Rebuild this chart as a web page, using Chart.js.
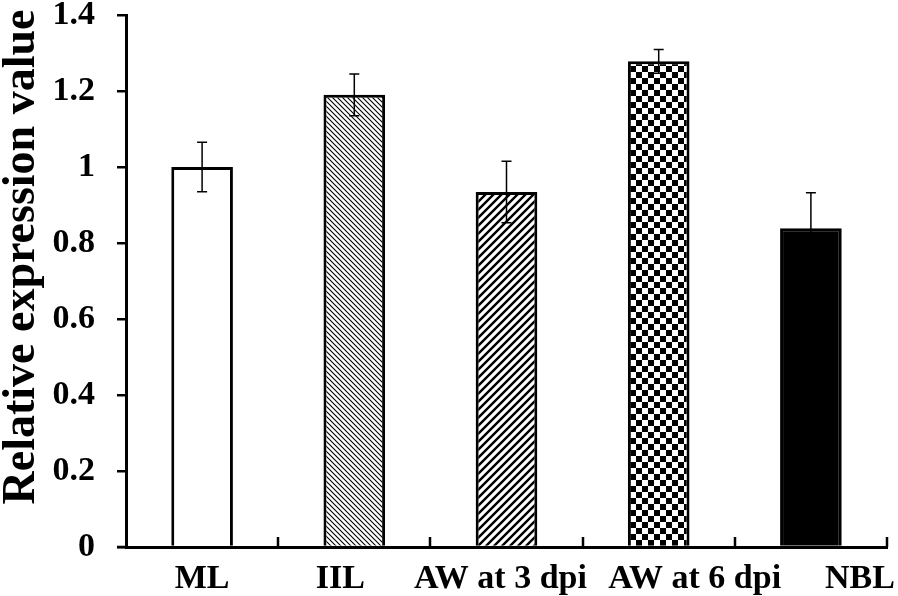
<!DOCTYPE html>
<html>
<head>
<meta charset="utf-8">
<script src="https://cdn.jsdelivr.net/npm/chart.js@4.4.1/dist/chart.umd.min.js"></script>
<style>
  html, body { margin: 0; padding: 0; background: #fff; }
  #wrap { width: 898px; height: 596px; position: relative; }
</style>
</head>
<body>
<div id="wrap"><canvas id="chart"></canvas></div>
<script>
// ── Data ────────────────────────────────────────────────────────────────
const categories = ["ML", "IIL", "AW at 3 dpi", "AW at 6 dpi", "NBL"];
const values     = [1.0, 1.19, 0.934, 1.278, 0.839];
const errors     = [0.065, 0.055, 0.081, 0.031, 0.093];
const yTicks     = [0, 0.2, 0.4, 0.6, 0.8, 1, 1.2, 1.4];
const yTitle     = "Relative expression value";

// ── Style ───────────────────────────────────────────────────────────────
const INK  = "#000000";
const FONT = "'Liberation Serif', 'Times New Roman', serif";
// the x labels in the original sit a little off their category centres
const labelShift = [0, -14, -6, 36, 49];

// ── Fill patterns ───────────────────────────────────────────────────────
function tile(size, draw) {
  const c = document.createElement("canvas");
  c.width = size; c.height = size;
  const g = c.getContext("2d");
  g.fillStyle = "#fff";
  g.fillRect(0, 0, size, size);
  draw(g, size);
  return g.createPattern(c, "repeat");
}

// fine "\\\" hatch
const fineHatch = tile(5, (g, n) => {
  g.strokeStyle = INK; g.lineWidth = 1.1;
  g.beginPath();
  g.moveTo(-1, -1); g.lineTo(n + 1, n + 1);
  g.moveTo(-1, n - 1); g.lineTo(1, n + 1);
  g.moveTo(n - 1, -1); g.lineTo(n + 1, 1);
  g.stroke();
});

// wide "///" hatch
const wideHatch = tile(8, (g, n) => {
  g.strokeStyle = INK; g.lineWidth = 2.4;
  g.beginPath();
  g.moveTo(-1, n + 1); g.lineTo(n + 1, -1);
  g.moveTo(-1, 1); g.lineTo(1, -1);
  g.moveTo(n - 1, n + 1); g.lineTo(n + 1, n - 1);
  g.stroke();
});

// checkerboard
const checker = tile(12, (g, n) => {
  g.fillStyle = INK;
  g.fillRect(0, 0, n / 2, n / 2);
  g.fillRect(n / 2, n / 2, n / 2, n / 2);
});

const fills = ["#ffffff", fineHatch, wideHatch, checker, INK];

// ── Error bars, inward x ticks, category labels, y title ────────────────
const overlay = {
  id: "overlay",
  afterDatasetsDraw(chart) {
    const { ctx, scales: { x, y } } = chart;
    ctx.save();

    ctx.strokeStyle = INK;
    ctx.lineWidth = 1.5;
    values.forEach((v, i) => {
      const cx  = x.getPixelForValue(i);
      const top = y.getPixelForValue(v + errors[i]);
      const bot = y.getPixelForValue(v - errors[i]);
      ctx.beginPath();
      ctx.moveTo(cx, top);     ctx.lineTo(cx, bot);
      ctx.moveTo(cx - 5, top); ctx.lineTo(cx + 5, top);
      ctx.moveTo(cx - 5, bot); ctx.lineTo(cx + 5, bot);
      ctx.stroke();
    });

    // tick marks between categories, pointing up
    const base = y.getPixelForValue(0);
    ctx.lineWidth = 2.5;
    ctx.beginPath();
    categories.forEach((_, i) => {
      const bx = Math.round(x.getPixelForValue(i + 0.5));
      ctx.moveTo(bx, base); ctx.lineTo(bx, base - 10);
    });
    // axis line runs a little past the y axis
    ctx.moveTo(x.left - 9, base); ctx.lineTo(x.left, base);
    ctx.stroke();

    ctx.fillStyle = INK;
    ctx.font = "bold 34px " + FONT;
    ctx.textAlign = "center";
    ctx.textBaseline = "middle";
    categories.forEach((c, i) => {
      ctx.fillText(c, x.getPixelForValue(i) + labelShift[i], base + 32);
    });

    // y-axis title, sitting a bit above the plot's middle as in the original
    ctx.font = "bold 46px " + FONT;
    ctx.textBaseline = "alphabetic";
    ctx.translate(34, (chart.chartArea.top + chart.chartArea.bottom) / 2 - 24);
    ctx.rotate(-Math.PI / 2);
    ctx.fillText(yTitle, 0, 0);

    ctx.restore();
  },
};

new Chart(document.getElementById("chart"), {
  type: "bar",
  data: {
    labels: categories,
    datasets: [{
      data: values,
      backgroundColor: fills,
      borderColor: INK,
      borderWidth: 3,
      borderSkipped: "bottom",
      barPercentage: 0.405,
      categoryPercentage: 1,
    }],
  },
  options: {
    responsive: true,
    maintainAspectRatio: false,
    animation: false,
    layout: { padding: { top: 15, right: 11, left: 0, bottom: 0 } },
    plugins: {
      legend: { display: false },
      tooltip: { enabled: false },
    },
    scales: {
      x: {
        grid: { display: false },
        border: { display: true, color: INK, width: 3 },
        ticks: { display: false },
        afterFit: (s) => { s.height = 49; s.paddingLeft = 0; s.paddingRight = 0; },
      },
      y: {
        min: 0,
        max: 1.4,
        afterBuildTicks: (s) => { s.ticks = yTicks.map(v => ({ value: v })); },
        grid: {
          drawOnChartArea: false,
          color: INK,
          lineWidth: 2.5,
          tickLength: 9,
        },
        border: { display: true, color: INK, width: 3 },
        ticks: {
          color: INK,
          padding: 22,
          font: { family: FONT, size: 34, weight: "bold" },
          callback: (v) => String(+Number(v).toFixed(1)),
        },
        title: { display: false },
        afterFit: (s) => { s.width = 126; s.paddingTop = 0; s.paddingBottom = 0; },
      },
    },
  },
  plugins: [overlay],
});
</script>
</body>
</html>
